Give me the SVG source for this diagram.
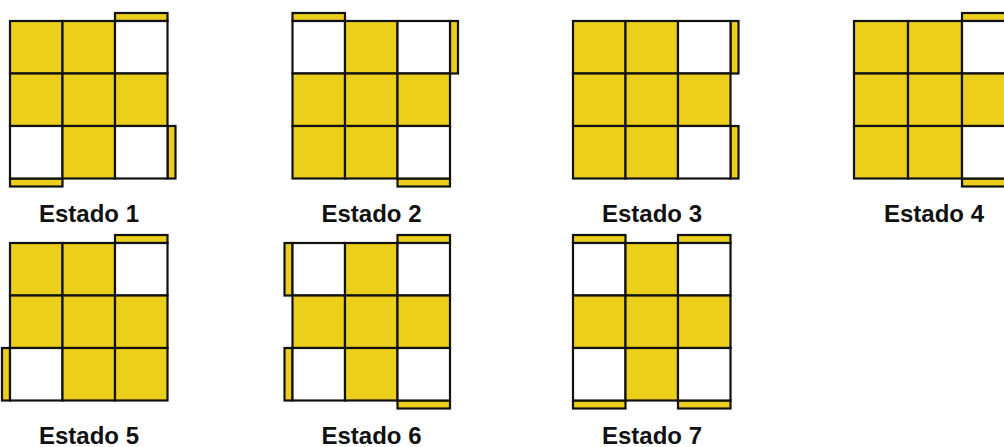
<svg xmlns="http://www.w3.org/2000/svg" width="1004" height="447" viewBox="0 0 1004 447">
<style>
.y{fill:#ECCF1A;stroke:#111;stroke-width:2.2}
.w{fill:#fff;stroke:#111;stroke-width:2.2}
.s{fill:#ECCF1A;stroke:#111;stroke-width:2.2}
.lbl{font-family:"Liberation Sans",Arial,sans-serif;font-weight:bold;font-size:24px;fill:#111;text-anchor:middle}
</style>
<rect width="1004" height="447" fill="#fff"/>
<g id="estado1" transform="translate(10,21)">
<rect class="s" x="105" y="-8" width="52.5" height="8"/>
<rect class="s" x="157.5" y="105" width="8" height="52.5"/>
<rect class="s" x="0" y="157.5" width="52.5" height="8"/>
<rect class="y" x="0" y="0" width="52.5" height="52.5"/><rect class="y" x="52.5" y="0" width="52.5" height="52.5"/><rect class="w" x="105" y="0" width="52.5" height="52.5"/>
<rect class="y" x="0" y="52.5" width="52.5" height="52.5"/><rect class="y" x="52.5" y="52.5" width="52.5" height="52.5"/><rect class="y" x="105" y="52.5" width="52.5" height="52.5"/>
<rect class="w" x="0" y="105" width="52.5" height="52.5"/><rect class="y" x="52.5" y="105" width="52.5" height="52.5"/><rect class="w" x="105" y="105" width="52.5" height="52.5"/>
<text class="lbl" x="79" y="201">Estado 1</text>
</g>
<g id="estado2" transform="translate(292.5,21)">
<rect class="s" x="0" y="-8" width="52.5" height="8"/>
<rect class="s" x="157.5" y="0" width="8" height="52.5"/>
<rect class="s" x="105" y="157.5" width="52.5" height="8"/>
<rect class="w" x="0" y="0" width="52.5" height="52.5"/><rect class="y" x="52.5" y="0" width="52.5" height="52.5"/><rect class="w" x="105" y="0" width="52.5" height="52.5"/>
<rect class="y" x="0" y="52.5" width="52.5" height="52.5"/><rect class="y" x="52.5" y="52.5" width="52.5" height="52.5"/><rect class="y" x="105" y="52.5" width="52.5" height="52.5"/>
<rect class="y" x="0" y="105" width="52.5" height="52.5"/><rect class="y" x="52.5" y="105" width="52.5" height="52.5"/><rect class="w" x="105" y="105" width="52.5" height="52.5"/>
<text class="lbl" x="79" y="201">Estado 2</text>
</g>
<g id="estado3" transform="translate(573,21)">
<rect class="s" x="157.5" y="0" width="8" height="52.5"/>
<rect class="s" x="157.5" y="105" width="8" height="52.5"/>
<rect class="y" x="0" y="0" width="52.5" height="52.5"/><rect class="y" x="52.5" y="0" width="52.5" height="52.5"/><rect class="w" x="105" y="0" width="52.5" height="52.5"/>
<rect class="y" x="0" y="52.5" width="52.5" height="52.5"/><rect class="y" x="52.5" y="52.5" width="52.5" height="52.5"/><rect class="y" x="105" y="52.5" width="52.5" height="52.5"/>
<rect class="y" x="0" y="105" width="52.5" height="52.5"/><rect class="y" x="52.5" y="105" width="52.5" height="52.5"/><rect class="w" x="105" y="105" width="52.5" height="52.5"/>
<text class="lbl" x="79" y="201">Estado 3</text>
</g>
<g id="estado4" transform="translate(854,21)">
<rect class="s" x="108" y="-8" width="52.5" height="8"/>
<rect class="s" x="108" y="157.5" width="52.5" height="8"/>
<rect class="y" x="0" y="0" width="54" height="52.5"/><rect class="y" x="54" y="0" width="54" height="52.5"/><rect class="w" x="108" y="0" width="54" height="52.5"/>
<rect class="y" x="0" y="52.5" width="54" height="52.5"/><rect class="y" x="54" y="52.5" width="54" height="52.5"/><rect class="y" x="108" y="52.5" width="54" height="52.5"/>
<rect class="y" x="0" y="105" width="54" height="52.5"/><rect class="y" x="54" y="105" width="54" height="52.5"/><rect class="w" x="108" y="105" width="54" height="52.5"/>
<text class="lbl" x="80" y="201">Estado 4</text>
</g>
<g id="estado5" transform="translate(10,243)">
<rect class="s" x="105" y="-8" width="52.5" height="8"/>
<rect class="s" x="-8" y="105" width="8" height="52.5"/>
<rect class="y" x="0" y="0" width="52.5" height="52.5"/><rect class="y" x="52.5" y="0" width="52.5" height="52.5"/><rect class="w" x="105" y="0" width="52.5" height="52.5"/>
<rect class="y" x="0" y="52.5" width="52.5" height="52.5"/><rect class="y" x="52.5" y="52.5" width="52.5" height="52.5"/><rect class="y" x="105" y="52.5" width="52.5" height="52.5"/>
<rect class="w" x="0" y="105" width="52.5" height="52.5"/><rect class="y" x="52.5" y="105" width="52.5" height="52.5"/><rect class="y" x="105" y="105" width="52.5" height="52.5"/>
<text class="lbl" x="79" y="201">Estado 5</text>
</g>
<g id="estado6" transform="translate(292.5,243)">
<rect class="s" x="-8" y="0" width="8" height="52.5"/>
<rect class="s" x="-8" y="105" width="8" height="52.5"/>
<rect class="s" x="105" y="-8" width="52.5" height="8"/>
<rect class="s" x="105" y="157.5" width="52.5" height="8"/>
<rect class="w" x="0" y="0" width="52.5" height="52.5"/><rect class="y" x="52.5" y="0" width="52.5" height="52.5"/><rect class="w" x="105" y="0" width="52.5" height="52.5"/>
<rect class="y" x="0" y="52.5" width="52.5" height="52.5"/><rect class="y" x="52.5" y="52.5" width="52.5" height="52.5"/><rect class="y" x="105" y="52.5" width="52.5" height="52.5"/>
<rect class="w" x="0" y="105" width="52.5" height="52.5"/><rect class="y" x="52.5" y="105" width="52.5" height="52.5"/><rect class="w" x="105" y="105" width="52.5" height="52.5"/>
<text class="lbl" x="79" y="201">Estado 6</text>
</g>
<g id="estado7" transform="translate(573,243)">
<rect class="s" x="0" y="-8" width="52.5" height="8"/>
<rect class="s" x="105" y="-8" width="52.5" height="8"/>
<rect class="s" x="0" y="157.5" width="52.5" height="8"/>
<rect class="s" x="105" y="157.5" width="52.5" height="8"/>
<rect class="w" x="0" y="0" width="52.5" height="52.5"/><rect class="y" x="52.5" y="0" width="52.5" height="52.5"/><rect class="w" x="105" y="0" width="52.5" height="52.5"/>
<rect class="y" x="0" y="52.5" width="52.5" height="52.5"/><rect class="y" x="52.5" y="52.5" width="52.5" height="52.5"/><rect class="y" x="105" y="52.5" width="52.5" height="52.5"/>
<rect class="w" x="0" y="105" width="52.5" height="52.5"/><rect class="y" x="52.5" y="105" width="52.5" height="52.5"/><rect class="w" x="105" y="105" width="52.5" height="52.5"/>
<text class="lbl" x="79" y="201">Estado 7</text>
</g>
</svg>
